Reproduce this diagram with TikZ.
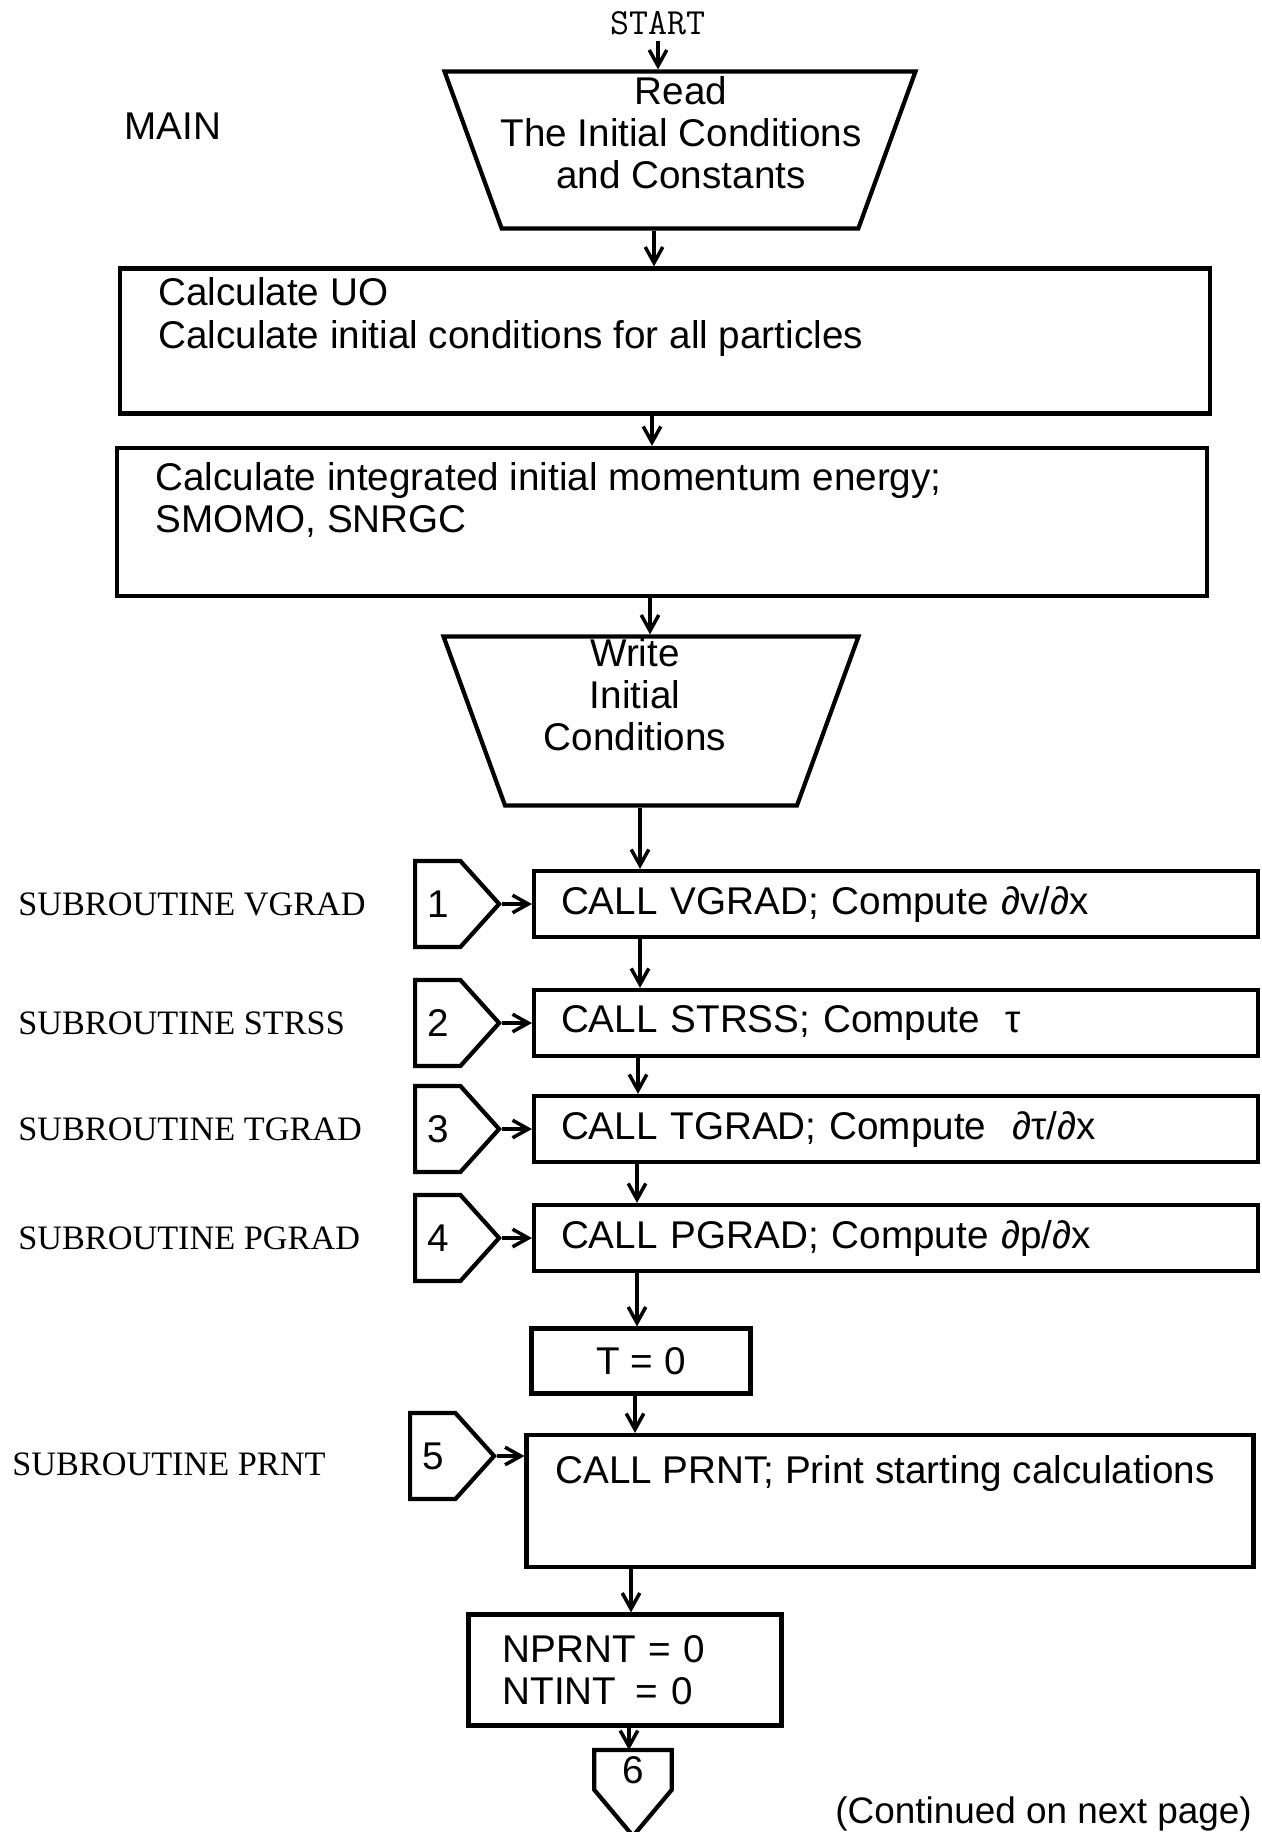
\documentclass[tikz,border=0pt]{standalone}
\usepackage{fontspec}
\setmainfont{Liberation Sans}
\newfontfamily\subrfont{Liberation Serif}
\usetikzlibrary{arrows.meta,shapes.geometric,shapes.symbols}

\tikzset{
  every node/.style={font=\fontsize{22}{24}\selectfont},
  txt/.style={anchor=west, align=left, inner sep=0pt},
  box/.style={draw, line width=2.4pt, rectangle, inner sep=0pt},
  iobox/.style={draw, line width=2.4pt, trapezium, shape border rotate=180,
    trapezium left angle=70, trapezium right angle=70, trapezium stretches=true,
    trapezium stretches body=true, inner xsep=4pt},
  callbox/.style={box, minimum width=14.48cm, minimum height=1.32cm, text width=13.4cm,
    inner xsep=0.54cm, align=left},
  conn/.style={draw, line width=2.4pt, signal, signal to=east, signal pointer angle=96,
    minimum width=1.68cm, minimum height=1.72cm, inner sep=0pt},
  subr/.style={txt, font=\subrfont\fontsize{19.5}{24}\selectfont},
  flow/.style={->, line width=2pt},
  >={Straight Barb[length=9pt,width=10pt]}
}

\begin{document}
\begin{tikzpicture}[x=0.02cm, y=-0.02cm]
\useasboundingbox (0,0) rectangle (1261,1832);

% top part
\node[font=\ttfamily\fontsize{21}{24}\selectfont] (start) at (658,23) {START};
\node (main) at (173,126) {MAIN};
\node[iobox, inner ysep=1.57cm, minimum width=9.42cm] (read) at (680,150) {};
\node[align=center] (readtxt) at (681,133) {Read\\The Initial Conditions\\and Constants};

\node[box, minimum width=21.8cm, minimum height=2.9cm] (calc) at (665,341) {};
\node[txt] (calctxt) at (158,317) {Calculate UO\\Calculate initial conditions for all particles};

\node[box, minimum width=21.8cm, minimum height=2.96cm] (integ) at (662,522) {};
\node[txt] (integtxt) at (155,500) {Calculate integrated initial momentum energy;\\SMOMO, SNRGC};

\node[iobox, inner ysep=1.69cm, minimum width=8.3cm] (write) at (651,721) {};
\node[align=center] (writetxt) at (635,695) {Write\\Initial\\Conditions};

% subroutine calls
\foreach \i/\y/\rname/\txt in {1/904/VGRAD/{CALL VGRAD; Compute ∂v/∂x},
    2/1023/STRSS/{CALL STRSS; Compute~~τ},
    3/1129/TGRAD/{CALL TGRAD; Compute~~∂τ/∂x},
    4/1238/PGRAD/{CALL PGRAD; Compute ∂p/∂x}} {
  \node[subr] (s\i) at (18,\y) {SUBROUTINE \rname};
  \node[conn, anchor=west] (c\i) at (413,\y) {\i};
  \node[callbox] (b\i) at (896,\y) {\txt};
  \draw[flow] (c\i.east) -- (b\i.west);
}

\node[box, minimum width=4.38cm, minimum height=1.3cm] (tzero) at (641,1361) {T = 0};

\node[subr] (s5) at (12,1464) {SUBROUTINE PRNT};
\node[conn, anchor=west] (c5) at (408,1456) {5};
\node[box, minimum width=14.54cm, minimum height=2.64cm] (prnt) at (890,1501) {};
\node[txt] (prnttxt) at (555,1473) {CALL PRNT; Print starting calculations};
\draw[flow] (c5.east) -- (c5.east -| prnt.west);

\node[box, minimum width=6.26cm, minimum height=2.22cm, text width=4.9cm, inner xsep=0.68cm,
  align=left] (nprnt) at (625,1670) {NPRNT = 0\\NTINT \,= 0};

% off-page connector
\node[minimum width=1.54cm, minimum height=0.78cm, inner sep=0pt, anchor=north] (off6) at (633,1750) {6};
\draw[line width=2.4pt] (off6.south west) -- (off6.north west) -- (off6.north east)
  -- (off6.south east) -- (633,1836) -- cycle;
\node[anchor=south west, inner sep=0pt, font=\fontsize{21}{24}\selectfont] (cont) at (835,1831) {(Continued on next page)};

% main line
\foreach \a/\b/\x in {start/read/658, read/calc/654, calc/integ/652, integ/write/650,
    write/b1/640, b1/b2/640, b2/b3/638, b3/b4/637, b4/tzero/637, tzero/prnt/635,
    prnt/nprnt/631, nprnt/off6/629}
  \draw[flow] (\a.south -| \x,0) -- (\b.north -| \x,0);
\end{tikzpicture}
\end{document}
